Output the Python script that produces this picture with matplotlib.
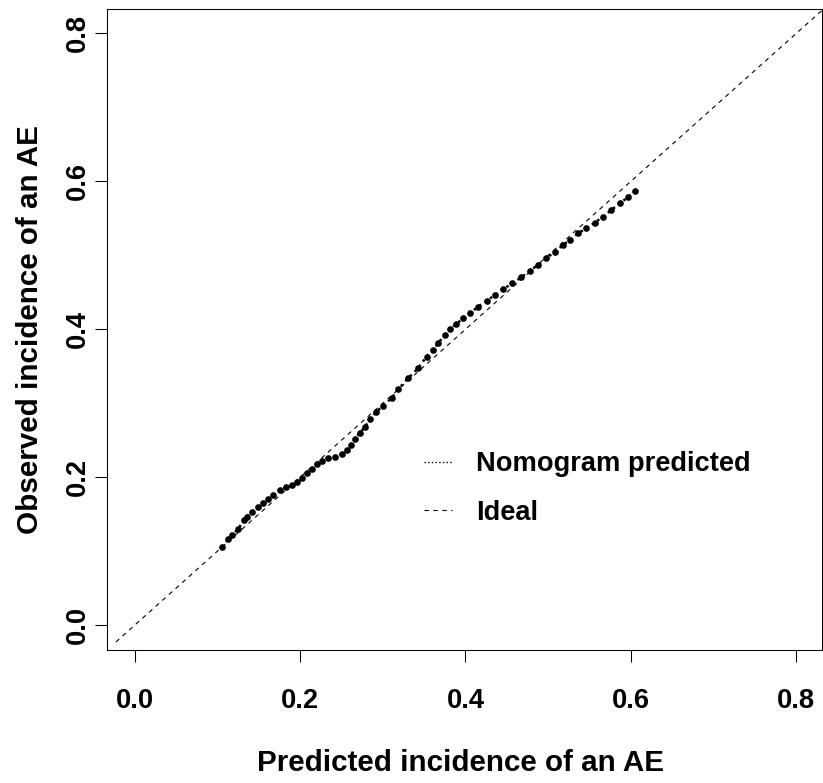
import numpy as np
import matplotlib
matplotlib.use('Agg')
import matplotlib.pyplot as plt
from matplotlib.lines import Line2D

plt.rcParams['font.family'] = ['Liberation Sans', 'DejaVu Sans']
plt.rcParams['font.weight'] = 'bold'

# calibration curve
pred = [0.1051, 0.1131, 0.1179, 0.1252, 0.1321, 0.1353, 0.1414, 0.1490, 0.1554,
        0.1614, 0.1675, 0.1756, 0.1828, 0.1897, 0.1958, 0.2018, 0.2079, 0.2139,
        0.2199, 0.2260, 0.2340, 0.2421, 0.2502, 0.2562, 0.2610, 0.2662, 0.2723,
        0.2783, 0.2843, 0.2924, 0.3004, 0.3106, 0.3186, 0.3306, 0.3427, 0.3529,
        0.3608, 0.3669, 0.3750, 0.3810, 0.3891, 0.3971, 0.4052, 0.4152, 0.4254,
        0.4354, 0.4454, 0.4568, 0.4677, 0.4777, 0.4877, 0.4979, 0.5079, 0.5179,
        0.5260, 0.5361, 0.5462, 0.5562, 0.5663, 0.5764, 0.5865, 0.5965, 0.6046]
obs = [0.1062, 0.1162, 0.1220, 0.1301, 0.1423, 0.1468, 0.1527, 0.1599, 0.1649,
       0.1703, 0.1761, 0.1828, 0.1865, 0.1896, 0.1941, 0.1995, 0.2054, 0.2108,
       0.2176, 0.2220, 0.2257, 0.2270, 0.2315, 0.2369, 0.2436, 0.2514, 0.2603,
       0.2676, 0.2784, 0.2886, 0.2964, 0.3068, 0.3189, 0.3338, 0.3473, 0.3630,
       0.3720, 0.3811, 0.3923, 0.4000, 0.4072, 0.4149, 0.4216, 0.4305, 0.4382,
       0.4464, 0.4541, 0.4622, 0.4703, 0.4792, 0.4869, 0.4959, 0.5049, 0.5139,
       0.5207, 0.5297, 0.5365, 0.5441, 0.5522, 0.5612, 0.5703, 0.5784, 0.5869]
ideal = [-0.0226, 0.86]
ticks = [0.0, 0.2, 0.4, 0.6, 0.8]
tick_labels = ['0.0', '0.2', '0.4', '0.6', '0.8']

fig = plt.figure(figsize=(8.23, 7.83), dpi=100)
ax = fig.add_axes([0.1304, 0.1699, 0.8684, 0.8182])

ax.plot(pred, obs, color='black', linestyle=':', linewidth=1.8,
        marker='o', markersize=4.8, markeredgewidth=0)
ax.plot(ideal, ideal, color='black', linestyle=(0, (4, 4)), linewidth=0.8)

ax.set_xlim(-0.033, 0.831)
ax.set_ylim(-0.0334, 0.8324)
ax.set_xticks(ticks)
ax.set_xticklabels(tick_labels, fontsize=19.6, fontweight='bold')
ax.set_yticks(ticks)
ax.set_yticklabels(tick_labels, fontsize=19.6, fontweight='bold',
                   rotation=90, va='center')
ax.tick_params(axis='x', length=8.6, width=0.75, pad=18.5)
ax.tick_params(axis='y', length=8.6, width=0.75, pad=3)
for s in ax.spines.values():
    s.set_linewidth(0.75)

ax.set_xlabel('Predicted incidence of an AE', fontsize=21.3, fontweight='bold')
ax.set_ylabel('Observed incidence of an AE', fontsize=21.3, fontweight='bold')
ax.xaxis.set_label_coords(0.494, -0.155)
ax.yaxis.set_label_coords(-0.088, 0.5)

handles = [Line2D([], [], color='black', linestyle=':', linewidth=1),
           Line2D([], [], color='black', linestyle=(0, (4, 4)), linewidth=0.8)]
ax.legend(handles, ['Nomogram predicted', 'Ideal'], loc='upper left',
          bbox_to_anchor=(0.443, 0.310), frameon=False,
          handlelength=1.03, handletextpad=0.9, labelspacing=0.82,
          borderpad=0, borderaxespad=0, prop={'weight': 'bold', 'size': 19.6})

fig.savefig('out.png', dpi=100)
